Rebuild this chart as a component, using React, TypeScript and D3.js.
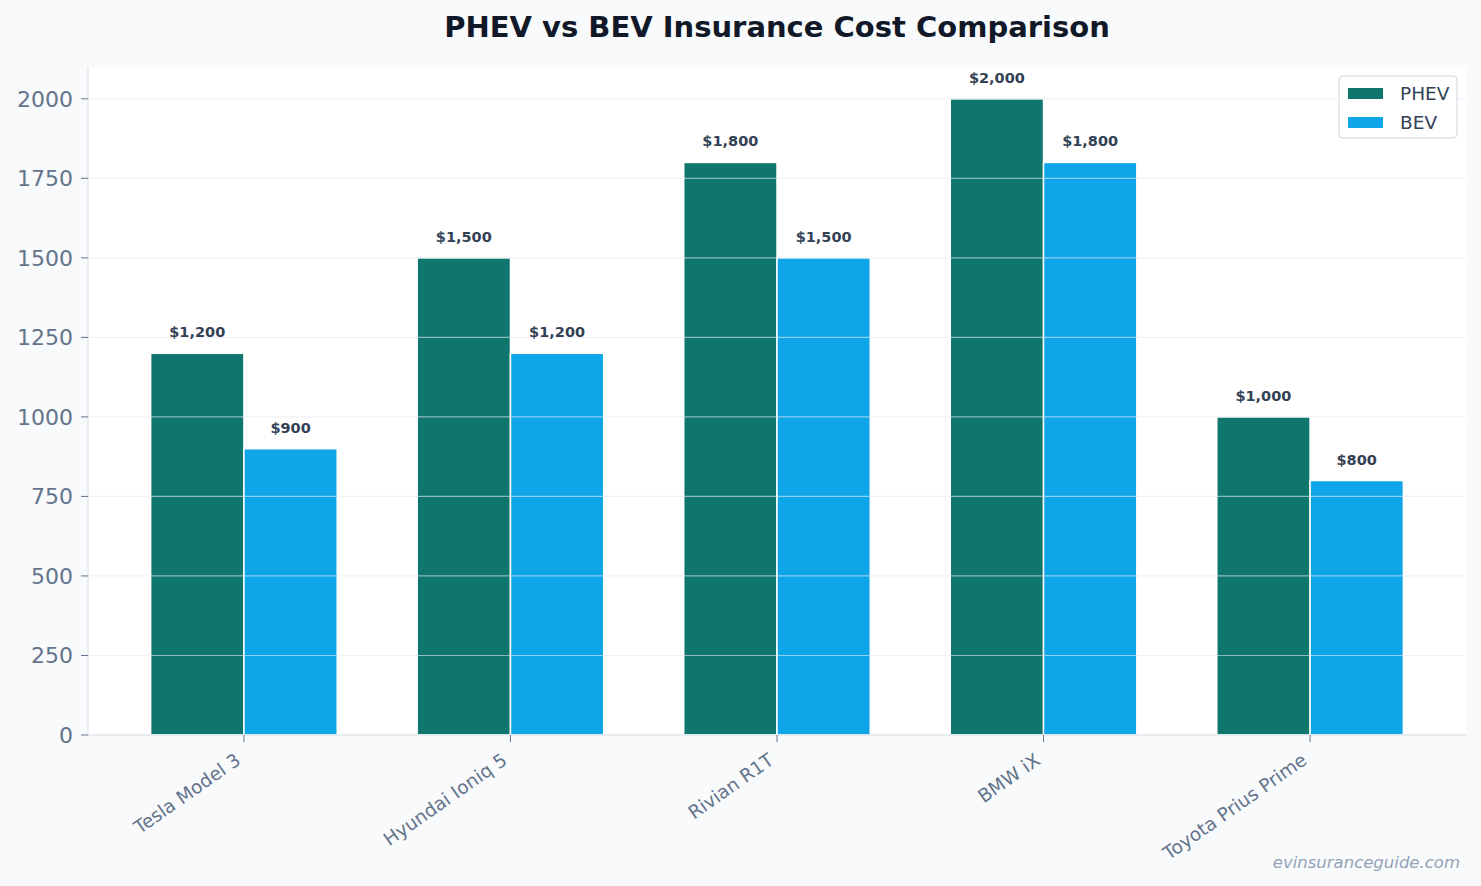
import { useEffect } from 'react';
import * as d3 from 'd3';

const models = ['Tesla Model 3', 'Hyundai Ioniq 5', 'Rivian R1T', 'BMW iX', 'Toyota Prius Prime'];
const phevCost = [1200, 1500, 1800, 2000, 1000];
const bevCost = [900, 1200, 1500, 1800, 800];
const yTicks = [0, 250, 500, 750, 1000, 1250, 1500, 1750, 2000];

const series = [
  { name: 'PHEV', values: phevCost, color: '#0f766e', offset: -1 },
  { name: 'BEV', values: bevCost, color: '#0ea5e9', offset: 0 },
];

const W = 1481;
const H = 886;
const plot = { left: 88, right: 1466, top: 67, bottom: 735 };
const barW = 0.35;

export default function App() {
  useEffect(() => {
    document.body.style.margin = '0';
  }, []);

  const x = d3
    .scaleLinear()
    .domain([-0.585, models.length - 1 + 0.585])
    .range([plot.left, plot.right]);

  const y = d3.scaleLinear().domain([0, 2100]).range([plot.bottom, plot.top]);

  const fmt = (v: number) => '$' + d3.format(',')(v);
  const font = '"DejaVu Sans", sans-serif';

  return (
    <svg width={W} height={H} style={{ display: 'block', fontFamily: font }}>
      <rect width={W} height={H} fill="#f8fafc" />
      <rect
        x={plot.left}
        y={plot.top}
        width={plot.right - plot.left}
        height={plot.bottom - plot.top}
        fill="#ffffff"
      />

      {/* bars */}
      {series.map((s) => (
        <g key={s.name}>
          {s.values.map((v, i) => {
            const x0 = x(i + s.offset * barW);
            const x1 = x(i + (s.offset + 1) * barW);
            return (
              <rect
                key={i}
                x={x0}
                y={y(v)}
                width={x1 - x0}
                height={y(0) - y(v)}
                fill={s.color}
                stroke="#ffffff"
                strokeWidth={1.5}
              />
            );
          })}
        </g>
      ))}

      {/* grid over bars */}
      {yTicks.map((t) => (
        <line
          key={'g' + t}
          x1={plot.left}
          x2={plot.right}
          y1={y(t)}
          y2={y(t)}
          stroke="#e2e8f0"
          strokeOpacity={0.6}
          strokeWidth={1.2}
        />
      ))}

      {/* value labels */}
      {series.map((s) =>
        s.values.map((v, i) => (
          <text
            key={s.name + i}
            x={x(i + (s.offset + 0.5) * barW)}
            y={y(v) - 16}
            textAnchor="middle"
            fontSize={14.5}
            fontWeight="bold"
            fill="#334155"
          >
            {fmt(v)}
          </text>
        ))
      )}

      {/* spines */}
      <line x1={plot.left} x2={plot.left} y1={plot.top} y2={plot.bottom} stroke="#e2e8f0" strokeWidth={1.5} />
      <line x1={plot.left} x2={plot.right} y1={plot.bottom} y2={plot.bottom} stroke="#e2e8f0" strokeWidth={1.5} />

      {/* y axis */}
      {yTicks.map((t) => (
        <g key={'y' + t} transform={`translate(0,${y(t)})`}>
          <line x1={plot.left - 7} x2={plot.left} stroke="#64748b" strokeWidth={1} />
          <text x={plot.left - 15} dy="0.35em" textAnchor="end" fontSize={22} fill="#64748b">
            {t}
          </text>
        </g>
      ))}

      {/* x axis */}
      {models.map((m, i) => (
        <g key={m} transform={`translate(${x(i)},${plot.bottom})`}>
          <line y1={0} y2={7} stroke="#64748b" strokeWidth={1} />
          <text
            transform="translate(-2,28) rotate(-35)"
            textAnchor="end"
            fontSize={18.5}
            fill="#64748b"
          >
            {m}
          </text>
        </g>
      ))}

      {/* title */}
      <text x={777} y={37} textAnchor="middle" fontSize={29} fontWeight="bold" fill="#111827">
        PHEV vs BEV Insurance Cost Comparison
      </text>

      {/* legend */}
      <g transform="translate(1339,76)">
        <rect width={118} height={62} rx={4} fill="#ffffff" stroke="#cbd5e1" strokeWidth={1} />
        {series.map((s, i) => (
          <g key={s.name} transform={`translate(9,${12 + i * 29})`}>
            <rect width={35} height={11} fill={s.color} />
            <text x={52} y={6} dy="0.35em" fontSize={18.5} fill="#334155">
              {s.name}
            </text>
          </g>
        ))}
      </g>

      {/* watermark */}
      <text x={1460} y={868} textAnchor="end" fontSize={16.5} fontStyle="italic" fill="#94a3b8">
        evinsuranceguide.com
      </text>
    </svg>
  );
}
